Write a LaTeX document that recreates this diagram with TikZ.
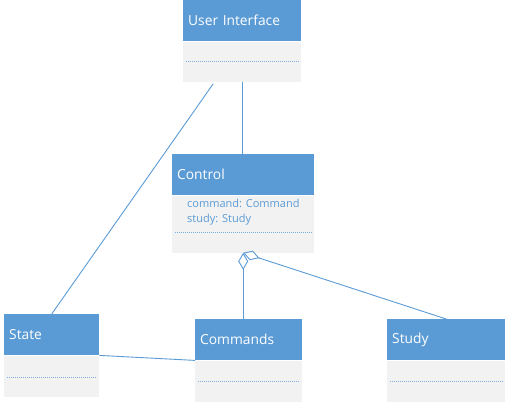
\documentclass[tikz,border=0pt]{standalone}
\usepackage{fontspec}
\setmainfont{Open Sans}
\usetikzlibrary{arrows.meta}
\definecolor{umlblue}{HTML}{5B9BD5}
\definecolor{umlgray}{HTML}{F2F2F2}
\definecolor{dotblue}{HTML}{7AAEE0}
\tikzset{
	head/.style={fill=umlblue, text=white, anchor=north west, inner xsep=5pt, inner ysep=0pt,
		minimum height=41pt, align=left, font=\fontsize{13.8}{16}\selectfont},
	body/.style={fill=umlgray, anchor=north west, inner sep=0pt, minimum height=#1},
	attr/.style={text=umlblue, anchor=north west, inner sep=0pt, align=left,
		font=\fontsize{11}{15}\selectfont},
	dots/.style={dotblue, line width=1.1pt, dash pattern=on 1.1pt off 0.9pt},
	link/.style={umlblue, line width=0.9pt},
	aggr/.style={link, {Diamond[open, length=17pt, width=10pt]}-}
}
\begin{document}
\begin{tikzpicture}[x=1pt, y=-1pt]
	\useasboundingbox (0,0) rectangle (508,404);
	
	%classes
	\node[head, text width=108pt] (uih) at (183,0) {User Interface};
	\node[body=40pt, minimum width=118pt] (uib) at (uih.south west) {};
	
	\node[head, text width=132pt] (ctlh) at (172,154) {Control};
	\node[body=57pt, minimum width=142pt] (ctlb) at (ctlh.south west) {};
	\node[attr] (ctla) at ([xshift=15pt, yshift=-4pt]ctlb.north west) {command: Command\\study: Study};
	
	\node[head, text width=85pt] (sth) at (4,314) {State};
	\node[body=41pt, minimum width=95pt] (stb) at (sth.south west) {};
	
	\node[head, text width=97pt] (cmdh) at (195,319) {Commands};
	\node[body=41pt, minimum width=107pt] (cmdb) at (cmdh.south west) {};
	
	\node[head, text width=108pt] (sdh) at (387,319) {Study};
	\node[body=41pt, minimum width=118pt] (sdb) at (sdh.south west) {};
	
	%dotted separators
	\draw[dots] ([xshift=3pt, yshift=-20pt]uib.north west) -- ([xshift=-3pt, yshift=-20pt]uib.north east);
	\draw[dots] ([xshift=3pt, yshift=-37pt]ctlb.north west) -- ([xshift=-3pt, yshift=-37pt]ctlb.north east);
	\draw[dots] ([xshift=3pt, yshift=-22pt]stb.north west) -- ([xshift=-3pt, yshift=-22pt]stb.north east);
	\draw[dots] ([xshift=3pt, yshift=-21pt]cmdb.north west) -- ([xshift=-3pt, yshift=-21pt]cmdb.north east);
	\draw[dots] ([xshift=3pt, yshift=-21pt]sdb.north west) -- ([xshift=-3pt, yshift=-21pt]sdb.north east);
	
	%connectors
	\draw[link] (uib.south) -- (uib.south |- ctlh.north);
	\draw[link] ([xshift=-29pt, yshift=-2pt]uib.south) -- (sth.north);
	\draw[link] (sth.south east) -- (cmdh.south west);
	\draw[aggr] (ctlb.south) -- (ctlb.south |- cmdh.north);
	\draw[aggr] (ctlb.south) -- (sdh.north);
\end{tikzpicture}
\end{document}
